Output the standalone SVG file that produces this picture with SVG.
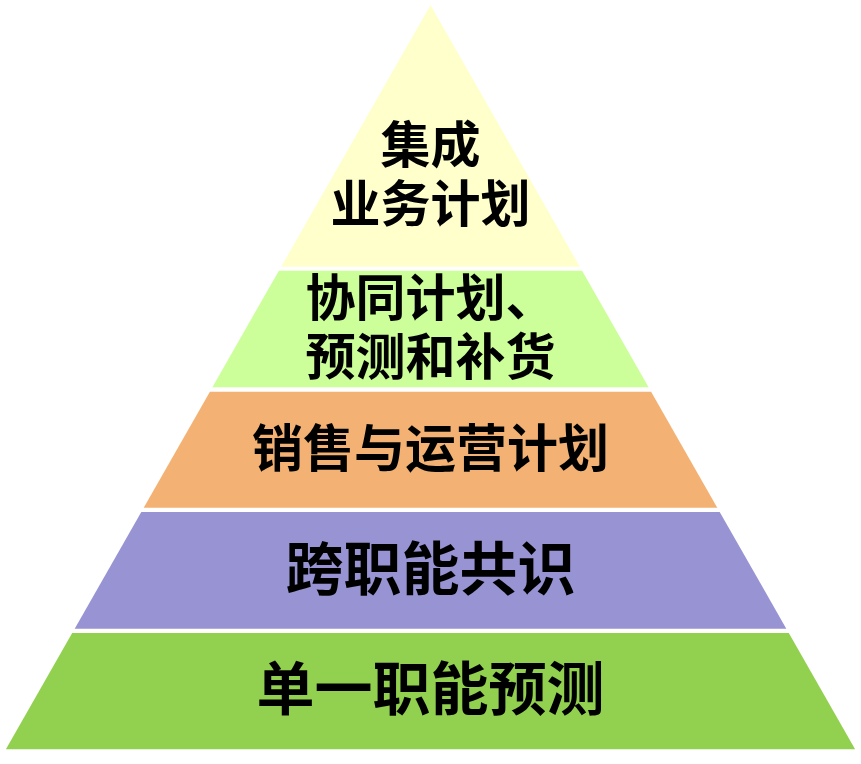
<svg xmlns="http://www.w3.org/2000/svg" width="861" height="764" viewBox="0 0 861 764">
  <style>
    .lbl { font-family: "Noto Sans CJK SC", "Noto Sans", sans-serif; font-weight: bold; fill: #000000; text-anchor: middle; }
    .s1 { font-size: 50px; }
    .s2 { font-size: 58px; }
  </style>
  <rect x="0" y="0" width="861" height="764" fill="#FFFFFF"/>
  <g id="layer-integrated">
    <polygon points="430.5,5 579.8,266.7 281.2,266.7" fill="#FFFFCC"/>
    <text class="lbl s1" x="430.5" y="163">集成<tspan x="430.5" y="221.5">业务计划</tspan></text>
  </g>
  <g id="layer-cpfr">
    <polygon points="278.9,270.7 582.1,270.7 648.6,387.3 212.4,387.3" fill="#CCFF99"/>
    <text class="lbl s1" x="430.5" y="315.5">协同计划、<tspan x="430.5" y="374.5">预测和补货</tspan></text>
  </g>
  <g id="layer-sop">
    <polygon points="209.9,391.7 651.1,391.7 717.3,507.7 143.7,507.7" fill="#F3B273"/>
    <text class="lbl s1" x="430.5" y="466.5" style="font-size:51px">销售与运营计划</text>
  </g>
  <g id="layer-consensus">
    <polygon points="141.3,512 719.7,512 786.3,628.7 74.7,628.7" fill="#9894D4"/>
    <text class="lbl s2" x="430.5" y="589.5">跨职能共识</text>
  </g>
  <g id="layer-single">
    <polygon points="72.2,633 788.8,633 855.1,749.3 5.9,749.3" fill="#92D050"/>
    <text class="lbl s2" x="430.5" y="709.5">单一职能预测</text>
  </g>
  <g id="connectors"></g>
</svg>
